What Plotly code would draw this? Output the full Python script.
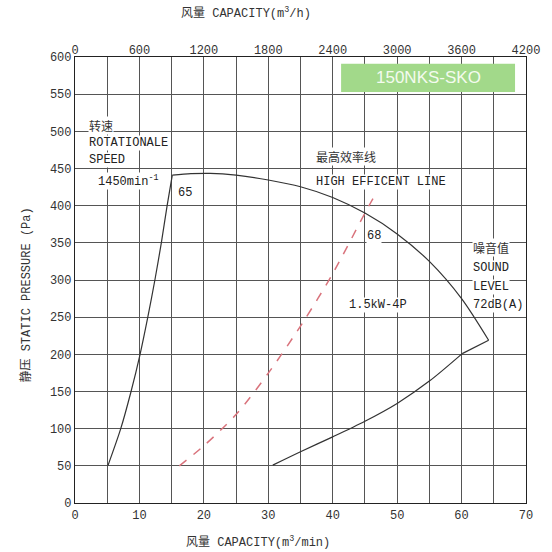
import plotly.graph_objects as go

# Fan curve, left (rising) branch: capacity m3/min, static pressure Pa
left_x = [5.1, 7.1, 8.7, 10.1, 11.3, 12.4, 13.4, 14.3, 15.1]
left_y = [50, 100, 150, 200, 250, 300, 350, 400, 441]
# top branch
top_x = [15.1, 18.0, 21.0, 25.0, 30.0, 35.0, 40.0, 45.0, 50.0, 55.0, 60.0, 64.2]
top_y = [441, 443, 443.5, 441, 434.5, 425.5, 411, 390, 362, 325, 275, 219]
# bottom (return) branch
bot_x = [30.7, 35.0, 40.0, 45.0, 50.0, 55.0, 60.1]
bot_y = [51, 69, 89, 110, 134, 164, 201]
# short closing segment to the tip
tip_x = [60.1, 64.2]
tip_y = [201, 219]

# High efficiency line
eff_x = [16.2, 20.0, 25.1, 30.2, 35.3, 39.9, 45.0, 46.4]
eff_y = [50, 77, 120, 177, 242, 307, 390, 412]

x_ticks = [0, 10, 20, 30, 40, 50, 60, 70]
y_ticks = [0, 50, 100, 150, 200, 250, 300, 350, 400, 450, 500, 550, 600]
top_ticks = [0, 600, 1200, 1800, 2400, 3000, 3600, 4200]

MONO = "Liberation Mono"
CJK = "Noto Sans CJK SC"
GRID = "#555555"
TXT = "#333333"

fig = go.Figure()
for xs, ys, sh in [(left_x, left_y, "spline"), (top_x, top_y, "spline"),
                   (bot_x, bot_y, "spline"), (tip_x, tip_y, "linear")]:
    fig.add_trace(go.Scatter(x=xs, y=ys, mode="lines",
                             line=dict(color="#333333", width=1.2, shape=sh, smoothing=0.8),
                             showlegend=False, hoverinfo="skip"))
fig.add_trace(go.Scatter(x=eff_x, y=eff_y, mode="lines",
                         line=dict(color="#d9737c", width=1.5, dash="dash", shape="spline", smoothing=0.8),
                         showlegend=False, hoverinfo="skip"))
# carrier trace for the top axis (m3/h)
fig.add_trace(go.Scatter(x=[top_ticks[0], top_ticks[-1]], y=[0, 0], xaxis="x2", mode="lines",
                         line=dict(width=0), showlegend=False, hoverinfo="skip"))

fig.update_layout(
    width=552, height=552,
    margin=dict(l=75, r=21, t=57, b=49),
    paper_bgcolor="white", plot_bgcolor="white",
    font=dict(family=MONO, size=12, color=TXT),
    xaxis=dict(range=[0, 70], tickvals=x_ticks, ticktext=[str(v) for v in x_ticks],
               showgrid=True, gridcolor=GRID, gridwidth=1.2,
               minor=dict(dtick=5, tick0=0, showgrid=True, gridcolor=GRID, gridwidth=1.2),
               showline=True, linecolor="#222", linewidth=1.2, mirror=True,
               zeroline=False, ticks="", tickfont=dict(family=MONO, size=12, color=TXT)),
    xaxis2=dict(range=[0, 4200], tickvals=top_ticks, ticktext=[str(v) for v in top_ticks],
                overlaying="x", side="top", showgrid=False, zeroline=False, ticks="",
                tickfont=dict(family=MONO, size=12, color=TXT)),
    yaxis=dict(range=[0, 600], tickvals=y_ticks, showgrid=True, gridcolor=GRID, gridwidth=1.2,
               showline=True, linecolor="#222", linewidth=1.2, mirror=True,
               zeroline=False, ticks="", tickfont=dict(family=MONO, size=12, color=TXT)),
)

def txt(x, y, s, anchor="left", family=MONO, bg="white", color="#222"):
    fig.add_annotation(x=x, y=y, xref="x", yref="y", text=s, showarrow=False,
                       xanchor=anchor, yanchor="middle", font=dict(family=family, size=12, color=color),
                       bgcolor=bg, borderpad=0)

txt(2.0, 508.5, "转速", family=CJK, color="#333")
txt(2.0, 484.3, "ROTATIONALE")
txt(2.0, 461.5, "SPEED")
txt(3.4, 433, "1450min<sup>-1</sup>")
txt(17.0, 417, "65", anchor="center", bg="rgba(0,0,0,0)")
txt(37.3, 465.5, "最高效率线", family=CJK, color="#333")
txt(37.3, 431.9, "HIGH EFFICENT LINE")
txt(46.4, 359, "68", anchor="center")
txt(61.6, 344.4, "噪音值", family=CJK, color="#333")
txt(61.6, 316, "SOUND")
txt(61.6, 290.6, "LEVEL")
txt(61.6, 266.4, "72dB(A)")
txt(47.1, 266.4, "1.5kW-4P", anchor="center")

# Model badge
fig.add_shape(type="rect", xref="x", yref="y", x0=41.3, x1=68.3, y0=553, y1=591,
              fillcolor="#a2d98a", line=dict(width=0), layer="above")
fig.add_annotation(x=54.8, y=572, xref="x", yref="y", text="150NKS-SKO", showarrow=False,
                   font=dict(family="Liberation Sans", size=17, color="#f4fbef"))

# Axis titles
fig.add_annotation(x=(248 - 75) / 456, y=(552 - 12 - 49) / 446, xref="paper", yref="paper",
                   text="<span style='font-family:Noto Sans CJK SC'>风量</span> CAPACITY(m<sup>3</sup>/h)",
                   showarrow=False, xanchor="center", yanchor="middle",
                   font=dict(family=MONO, size=12, color=TXT))
fig.add_annotation(x=(260 - 75) / 456, y=(552 - 541 - 49) / 446, xref="paper", yref="paper",
                   text="<span style='font-family:Noto Sans CJK SC'>风量</span> CAPACITY(m<sup>3</sup>/min)",
                   showarrow=False, xanchor="center", yanchor="middle",
                   font=dict(family=MONO, size=12, color=TXT))
fig.add_annotation(x=(24 - 75) / 456, y=(552 - 295 - 49) / 446, xref="paper", yref="paper",
                   text="<span style='font-family:Noto Sans CJK SC'>静压</span> STATIC PRESSURE (Pa)",
                   showarrow=False, textangle=-90, xanchor="center", yanchor="middle",
                   font=dict(family=MONO, size=12, color=TXT))

fig.write_html("out.html", config={"displayModeBar": False},
               post_script="document.body.style.margin='0';document.body.style.overflow='hidden';")
